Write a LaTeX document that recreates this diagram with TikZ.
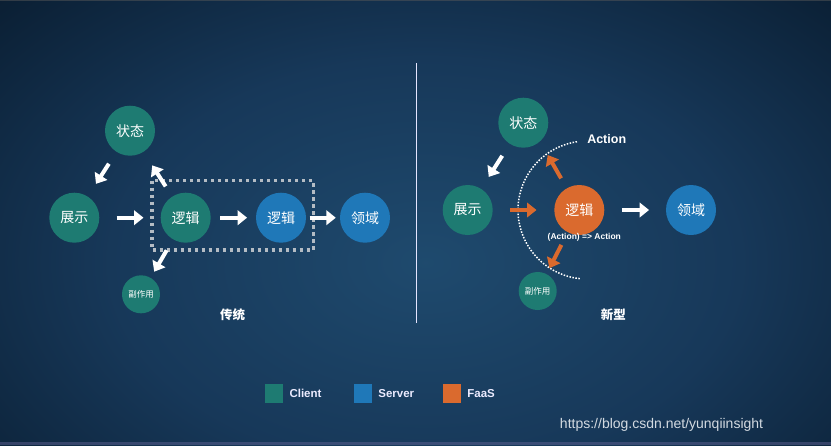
\documentclass[tikz,border=0pt]{standalone}
\usepackage{fontspec}
\setmainfont{Liberation Sans}
\newfontfamily\cjk{Noto Sans CJK SC}
\usetikzlibrary{arrows.meta,positioning}
\definecolor{client}{HTML}{1E7B72}
\definecolor{server}{HTML}{1F78B8}
\definecolor{faas}{HTML}{DA6A2E}
\definecolor{urlgray}{HTML}{D3DAE1}
\definecolor{boxgray}{HTML}{B4BCC4}
\pgfdeclareradialshading{bgglow}{\pgfpointorigin}{rgb(0bp)=(0.12,0.29,0.43); rgb(18bp)=(0.09,0.22,0.35); rgb(34bp)=(0.04,0.12,0.20); rgb(50bp)=(0.02,0.07,0.13)}

\begin{document}
\begin{tikzpicture}[x=1pt,y=-1pt,
  bub/.style={circle,minimum size=50pt,inner sep=0pt,text=white,font=\cjk\fontsize{14}{15}\selectfont},
  tiny/.style={circle,minimum size=38pt,inner sep=0pt,text=white,font=\cjk\fontsize{8.5}{9}\selectfont},
  flow/.style={draw=white,line width=4pt,-{Triangle[length=9.5pt,width=14.5pt]}},
  fflow/.style={flow,draw=faas},
  title/.style={text=white,font=\cjk\bfseries\fontsize{12.5}{13}\selectfont},
  legbox/.style={minimum width=18.5pt,minimum height=19pt,inner sep=0pt},
  legtext/.style={text=white!92!blue,font=\bfseries\fontsize{11.5}{12}\selectfont,inner sep=0pt,text height=8.3pt,text depth=0pt}]

\useasboundingbox (0,0) rectangle (831,445);
\begin{scope}
\clip (0,0) rectangle (831,445);
\shade[shading=bgglow] (-10,-20) rectangle (861,545);
\end{scope}
\fill[black!65!white,opacity=.5] (0,0) rectangle (831,1);
\fill[blue!20!gray,opacity=.45] (0,442) rectangle (831,445);

\node[bub,fill=client] (ST1) at (130,130.7) {状态};
\node[bub,fill=client] (SH1) at (74.3,217.7) {展示};
\node[bub,fill=client] (LG1) at (185.7,217.7) {逻辑};
\node[bub,fill=server] (SV1) at (281,217.7) {逻辑};
\node[bub,fill=server] (DM1) at (365,217.7) {领域};
\node[tiny,fill=client] (SE1) at (141,294.3) {副作用};

\draw[boxgray,line width=3.5pt,dash pattern=on 3.5pt off 3.5pt] (152,180.7) rectangle (313.3,250);

\draw[flow,shorten <=14pt,shorten >=15pt] (ST1) -- (SH1);
\draw[flow,shorten <=12pt,shorten >=16pt] (LG1) -- (ST1);
\draw[flow,shorten <=12.5pt,shorten >=7pt] (LG1) -- (SE1);
\draw[flow,shorten <=17pt,shorten >=17pt] (SH1) -- (LG1);
\draw[flow,shorten <=9.3pt,shorten >=8.7pt] (LG1) -- (SV1);
\draw[flow,shorten <=3.3pt,shorten >=4pt] (SV1) -- (DM1);

\node[title] (T1) at (232.7,315) {传统};

\coordinate (TOP) at (416.5,63);
\coordinate (BOT) at (416.5,323);
\draw[white!90!blue,line width=1.6pt] (TOP) -- (BOT);

\node[bub,fill=client] (ST2) at (523.3,122.7) {状态};
\node[bub,fill=client] (SH2) at (467.7,210) {展示};
\node[bub,fill=faas] (LG2) at (579.3,210) {逻辑};
\node[bub,fill=server] (DM2) at (691,210) {领域};
\node[tiny,fill=client] (SE2) at (537.7,291) {副作用};

\draw[white,line width=1.5pt,dash pattern=on 1.5pt off 1.5pt] (587,210) ++(96:69) arc[start angle=96,end angle=262.5,radius=69];

\coordinate (AC) at (547.7,155);
\node[text=white,font=\bfseries\fontsize{12.5}{13}\selectfont] (ACT) at (606.7,139) {Action};
\node[text=white,font=\bfseries\fontsize{8.5}{9}\selectfont] (RED) at (584.3,237.3) {(Action) => Action};

\draw[flow,shorten <=14pt,shorten >=14pt] (ST2) -- (SH2);
\draw[fflow,shorten <=17.3pt,shorten >=17.6pt] (SH2) -- (LG2);
\draw[fflow,shorten <=11.3pt] (LG2) -- (AC);
\draw[fflow,shorten <=14pt,shorten >=6.4pt] (LG2) -- (SE2);
\draw[flow,shorten <=17.4pt,shorten >=16.7pt] (LG2) -- (DM2);

\node[title] (T2) at (613.3,314.3) {新型};

\node[legbox,fill=client] (K1) at (274.2,393) {};
\node[legtext,right=5.7pt of K1] (L1) {Client};
\node[legbox,fill=server] (K2) at (363.2,393) {};
\node[legtext,right=5.5pt of K2] (L2) {Server};
\node[legbox,fill=faas] (K3) at (452.2,393) {};
\node[legtext,right=5.5pt of K3] (L3) {FaaS};

\node[anchor=east,inner sep=0pt,text=urlgray,font=\fontsize{14}{15}\selectfont] (URL) at (763.3,425) {https://blog.csdn.net/yunqiinsight};
\end{tikzpicture}
\end{document}
